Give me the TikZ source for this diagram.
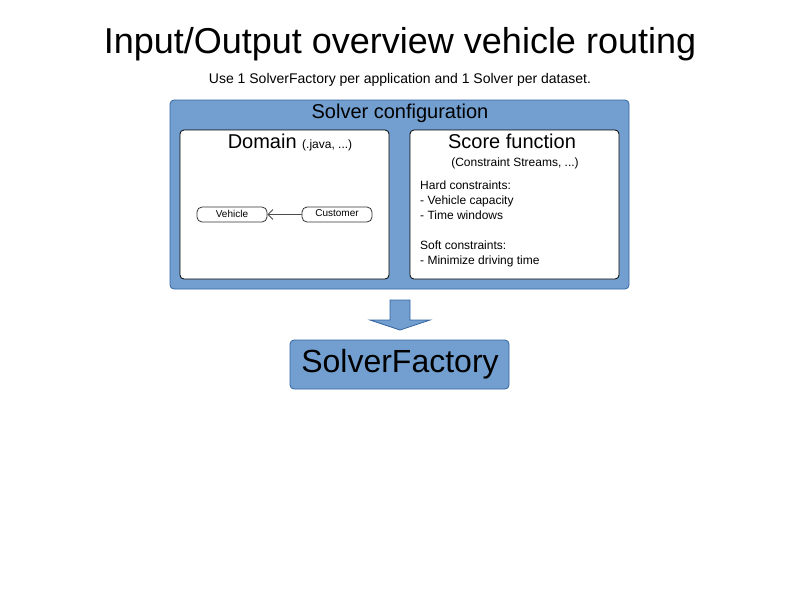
\documentclass[tikz,border=0pt]{standalone}
\usepackage{fontspec}
\setmainfont{Liberation Sans}
\usetikzlibrary{arrows.meta}
\definecolor{bfill}{RGB}{114,159,207}
\definecolor{bline}{RGB}{52,101,164}
\tikzset{
  bluebox/.style={draw=bline, fill=bfill, rounded corners=4pt, line width=0.8pt},
  whitebox/.style={draw=black, fill=white, rounded corners=4pt, line width=0.8pt},
  classbox/.style={draw=black!80, fill=white, rounded corners=5pt, line width=0.8pt, minimum width=70pt, minimum height=15pt, inner sep=0pt, font=\fontsize{10}{12}\selectfont, text depth=2pt, anchor=center},
  txt/.style={inner sep=0pt, anchor=base},
}
\begin{document}
\begin{tikzpicture}[x=1pt,y=-1pt]
\useasboundingbox (0,0) rectangle (800,600);
\node[txt] (title) at (400,53) {\fontsize{36}{40}\selectfont Input/Output overview vehicle routing};
\node[txt] (sub) at (400,83) {\fontsize{14}{16}\selectfont Use 1 SolverFactory per application and 1 Solver per dataset.};
\path[bluebox] (170,100) rectangle (629,289);
\node[txt] (cfg) at (400,118) {\fontsize{20}{24}\selectfont Solver configuration};
\path[whitebox] (180,130) rectangle (389,279);
\node[txt] (dom) at (290,148) {\fontsize{20}{24}\selectfont Domain \fontsize{12}{14}\selectfont(.java, ...)};
\node[classbox] (veh) at (232,214.5) {Vehicle};
\node[classbox] (cus) at (337,214.5) {Customer};
\draw[black!70, line width=0.8pt, -{Straight Barb[length=5pt,width=10pt]}] (cus.west) -- (veh.east);
\path[whitebox] (410,130) rectangle (619,279);
\node[txt] (sf) at (512,148) {\fontsize{20}{24}\selectfont Score function};
\node[txt] (cs) at (515,166) {\fontsize{12}{14}\selectfont (Constraint Streams, ...)};
\node[inner sep=0pt, anchor=north west, align=left, font=\fontsize{12}{15}\selectfont] (cons) at (420,181)
  {Hard constraints:\\- Vehicle capacity\\- Time windows\\[15pt]Soft constraints:\\- Minimize driving time};
\draw[draw=bline, fill=bfill, line width=0.8pt, line join=miter] (390,300) -- (410,300) -- (410,320) -- (430,320) -- (400,330) -- (370,320) -- (390,320) -- cycle;
\path[bluebox] (290,340) rectangle (509,389);
\node[txt] (fac) at (400,372) {\fontsize{32}{36}\selectfont SolverFactory};
\end{tikzpicture}
\end{document}
